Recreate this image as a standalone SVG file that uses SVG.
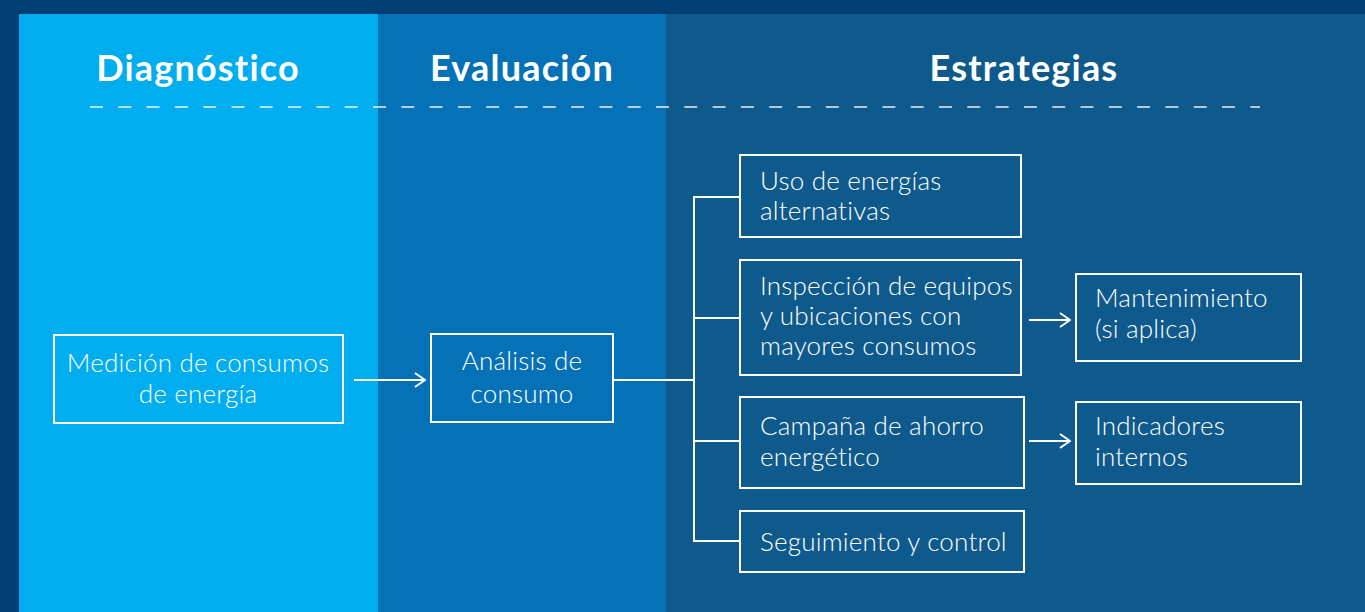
<svg xmlns="http://www.w3.org/2000/svg" width="1365" height="612" viewBox="0 0 1365 612">
<defs>
<style>
.box{fill:none;stroke:#fff;stroke-width:2}
.con{fill:none;stroke:#fff;stroke-width:2}
.t{font-family:"Lato","Noto Sans",sans-serif;font-weight:300;font-size:26px;letter-spacing:0.2px;fill:#fff}
.h{font-family:"Lato","Noto Sans",sans-serif;font-weight:700;font-size:36px;letter-spacing:1.2px;fill:#fff;text-anchor:middle}
</style>
<marker id="arr" viewBox="0 0 12 16" refX="11" refY="8" markerWidth="12" markerHeight="16" markerUnits="userSpaceOnUse" orient="auto">
<path d="M1,1 L11,8 L1,15" fill="none" stroke="#fff" stroke-width="2"/>
</marker>
</defs>
<rect x="0" y="0" width="1365" height="612" fill="#003E73"/>
<rect x="19" y="14" width="359" height="598" fill="#00ADEE"/>
<rect x="378" y="14" width="288" height="598" fill="#0572B8"/>
<rect x="666" y="14" width="699" height="598" fill="#0F5A8C"/>
<text class="h" x="198" y="81">Diagnóstico</text>
<text class="h" x="522" y="81">Evaluación</text>
<text class="h" x="1024" y="81">Estrategias</text>
<line x1="90" y1="107" x2="1260" y2="107" stroke="#fff" stroke-width="1.5" stroke-dasharray="13 15.3" opacity="0.9"/>
<g id="connectors">
<line class="con" x1="354" y1="380" x2="425" y2="380" marker-end="url(#arr)"/>
<line class="con" x1="613" y1="380" x2="694" y2="380"/>
<polyline class="con" points="740,197 694,197 694,541 740,541"/>
<line class="con" x1="694" y1="318" x2="740" y2="318"/>
<line class="con" x1="694" y1="441" x2="740" y2="441"/>
<line class="con" x1="1029" y1="320" x2="1070" y2="320" marker-end="url(#arr)"/>
<line class="con" x1="1029" y1="441" x2="1070" y2="441" marker-end="url(#arr)"/>
</g>
<g id="medicion">
<rect class="box" x="54" y="335" width="289" height="88"/>
<text class="t" x="198" y="372" text-anchor="middle">Medición de consumos</text>
<text class="t" x="198" y="403" text-anchor="middle">de energía</text>
</g>
<g id="analisis">
<rect class="box" x="431" y="334" width="182" height="88"/>
<text class="t" x="522" y="370" text-anchor="middle">Análisis de</text>
<text class="t" x="522" y="403" text-anchor="middle">consumo</text>
</g>
<g id="uso">
<rect class="box" x="740" y="155" width="281" height="82"/>
<text class="t" x="760" y="190">Uso de energías</text>
<text class="t" x="760" y="220">alternativas</text>
</g>
<g id="inspeccion">
<rect class="box" x="740" y="260" width="281" height="115"/>
<text class="t" x="760" y="295">Inspección de equipos</text>
<text class="t" x="760" y="325">y ubicaciones con</text>
<text class="t" x="760" y="355">mayores consumos</text>
</g>
<g id="campana">
<rect class="box" x="740" y="397" width="284" height="91"/>
<text class="t" x="760" y="435">Campaña de ahorro</text>
<text class="t" x="760" y="466">energético</text>
</g>
<g id="seguimiento">
<rect class="box" x="740" y="511" width="284" height="61"/>
<text class="t" x="760" y="551">Seguimiento y control</text>
</g>
<g id="mantenimiento">
<rect class="box" x="1076" y="274" width="225" height="87"/>
<text class="t" x="1095" y="307">Mantenimiento</text>
<text class="t" x="1095" y="338">(si aplica)</text>
</g>
<g id="indicadores">
<rect class="box" x="1076" y="402" width="225" height="82"/>
<text class="t" x="1095" y="435">Indicadores</text>
<text class="t" x="1095" y="466">internos</text>
</g>
</svg>
